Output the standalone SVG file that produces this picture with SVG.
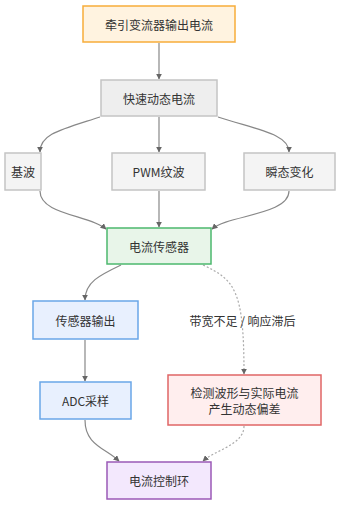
<svg xmlns="http://www.w3.org/2000/svg" width="343" height="507" viewBox="0 0 343 507">
<defs>
<style>
text{font-family:"Noto Sans CJK SC","Noto Sans",sans-serif;font-size:12px;fill:#333;text-anchor:middle;dominant-baseline:central}
.e{fill:none;stroke:#888;stroke-width:1.2}
.d{fill:none;stroke:#aaa;stroke-width:1.2;stroke-dasharray:2,2}
.n rect{stroke-width:1.5}
</style>
<marker id="a" viewBox="0 0 10 10" refX="9" refY="5" markerWidth="6" markerHeight="6" orient="auto-start-reverse" markerUnits="userSpaceOnUse"><path d="M0,0L10,5L0,10z" fill="#666"/></marker>
</defs>
<rect width="343" height="507" fill="#fff"/>
<g id="edges">
<path class="e" d="M159,43V79" marker-end="url(#a)"/>
<path class="e" d="M100,117C60,130 40,134 40,152" marker-end="url(#a)"/>
<path class="e" d="M159,117V152" marker-end="url(#a)"/>
<path class="e" d="M218,117C258,130 289,134 289,152" marker-end="url(#a)"/>
<path class="e" d="M40,191C40,215 90,215 106,229" marker-end="url(#a)"/>
<path class="e" d="M159,191V227" marker-end="url(#a)"/>
<path class="e" d="M289,191C289,215 228,215 212,229" marker-end="url(#a)"/>
<path class="e" d="M121,265C100,275 85,282 85,300" marker-end="url(#a)"/>
<path class="d" d="M203,265C235,280 244,290 244,374" marker-end="url(#a)"/>
<path class="e" d="M85,340V381" marker-end="url(#a)"/>
<path class="e" d="M85,420C85,445 105,448 119,461" marker-end="url(#a)"/>
<path class="d" d="M244,426C244,445 215,450 203,461" marker-end="url(#a)"/>
<text x="242.5" y="320">带宽不足 / 响应滞后</text>
</g>
<g id="n1" class="n"><rect x="83" y="6" width="152" height="36" fill="#FFF3E0" stroke="#F7AD3A"/><text x="159" y="24">牵引变流器输出电流</text></g>
<g id="n2" class="n"><rect x="101" y="80" width="116" height="36" fill="#EEEEEE" stroke="#C4C4C4"/><text x="159" y="98">快速动态电流</text></g>
<g id="n3" class="n"><rect x="5" y="153" width="36" height="37" fill="#F4F4F4" stroke="#C4C4C4"/><text x="23" y="171.5">基波</text></g>
<g id="n4" class="n"><rect x="112" y="153" width="93" height="37" fill="#F4F4F4" stroke="#C4C4C4"/><text x="158.5" y="171.5">PWM纹波</text></g>
<g id="n5" class="n"><rect x="244" y="153" width="91" height="37" fill="#F4F4F4" stroke="#C4C4C4"/><text x="289.5" y="171.5">瞬态变化</text></g>
<g id="n6" class="n"><rect x="107" y="228" width="104" height="36" fill="#E8F5E9" stroke="#4CB86E"/><text x="159" y="246">电流传感器</text></g>
<g id="n7" class="n"><rect x="33" y="301" width="105" height="38" fill="#E8F0FE" stroke="#6AA6E8"/><text x="85.5" y="320">传感器输出</text></g>
<g id="n8" class="n"><rect x="168" y="375" width="153" height="50" fill="#FFEEEE" stroke="#E06666"/><text x="244.5" y="392.5">检测波形与实际电流</text><text x="244.5" y="408.5">产生动态偏差</text></g>
<g id="n9" class="n"><rect x="40" y="382" width="91" height="37" fill="#E8F0FE" stroke="#6AA6E8"/><text x="85.5" y="400.5">ADC采样</text></g>
<g id="n10" class="n"><rect x="107" y="462" width="104" height="37" fill="#F3E8FD" stroke="#9B59B6"/><text x="159" y="480.5">电流控制环</text></g>
</svg>
